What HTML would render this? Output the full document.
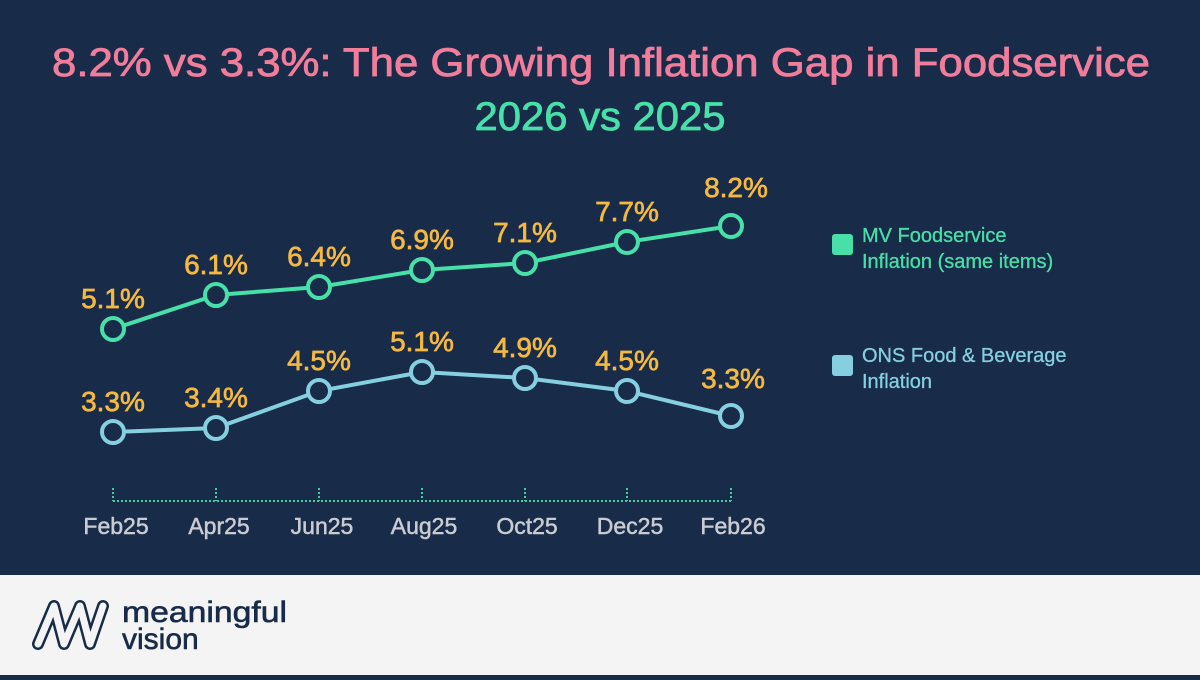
<!DOCTYPE html>
<html><head><meta charset="utf-8"><style>
html,body{margin:0;padding:0;}
body{width:1200px;height:675px;overflow:hidden;background:#182b48;font-family:"Liberation Sans","DejaVu Sans",sans-serif;}
</style></head><body>
<svg width="1200" height="675" xmlns="http://www.w3.org/2000/svg" font-family="Liberation Sans, DejaVu Sans, sans-serif">
<rect width="1200" height="575" fill="#182b48"/>
<rect y="575" width="1200" height="100" fill="#f4f4f4"/>
<text x="601" y="76" text-anchor="middle" font-size="40" fill="#f27d9b" stroke="#f27d9b" stroke-width="0.8" textLength="1098" lengthAdjust="spacingAndGlyphs">8.2% vs 3.3%: The Growing Inflation Gap in Foodservice</text>
<text x="600" y="130" text-anchor="middle" font-size="40" fill="#47e0a8" stroke="#47e0a8" stroke-width="0.8" textLength="251" lengthAdjust="spacingAndGlyphs">2026 vs 2025</text>
<g stroke="#3fcfa0" stroke-width="2" stroke-dasharray="2,2" fill="none">
<line x1="113" y1="501" x2="731" y2="501"/>
<line x1="113" y1="488" x2="113" y2="501"/><line x1="216" y1="488" x2="216" y2="501"/><line x1="319" y1="488" x2="319" y2="501"/><line x1="422" y1="488" x2="422" y2="501"/><line x1="525" y1="488" x2="525" y2="501"/><line x1="627" y1="488" x2="627" y2="501"/><line x1="731" y1="488" x2="731" y2="501"/>
</g>
<g font-size="23" fill="#c9ccd2" stroke="#c9ccd2" stroke-width="0.5" text-anchor="middle">
<text x="116" y="534">Feb25</text><text x="219" y="534">Apr25</text><text x="322" y="534">Jun25</text><text x="424" y="534">Aug25</text><text x="527" y="534">Oct25</text><text x="630" y="534">Dec25</text><text x="733" y="534">Feb26</text>
</g>
<polyline points="113,329 216,295 319,287 422,270 525,263 627,242 731,226" fill="none" stroke="#47e0a8" stroke-width="4"/>
<polyline points="113,432 216,428 319,391 422,372 525,378 627,391 731,416" fill="none" stroke="#86cfe0" stroke-width="4"/>
<g fill="#182b48" stroke="#47e0a8" stroke-width="4">
<circle cx="113" cy="329" r="11"/><circle cx="216" cy="295" r="11"/><circle cx="319" cy="287" r="11"/><circle cx="422" cy="270" r="11"/><circle cx="525" cy="263" r="11"/><circle cx="627" cy="242" r="11"/><circle cx="731" cy="226" r="11"/>
</g>
<g fill="#182b48" stroke="#86cfe0" stroke-width="4">
<circle cx="113" cy="432" r="11"/><circle cx="216" cy="428" r="11"/><circle cx="319" cy="391" r="11"/><circle cx="422" cy="372" r="11"/><circle cx="525" cy="378" r="11"/><circle cx="627" cy="391" r="11"/><circle cx="731" cy="416" r="11"/>
</g>
<g font-size="28" fill="#f5b942" stroke="#f5b942" stroke-width="0.7" text-anchor="middle">
<text x="113" y="308">5.1%</text><text x="216" y="274">6.1%</text><text x="319" y="266">6.4%</text><text x="422" y="249">6.9%</text><text x="525" y="242">7.1%</text><text x="627" y="221">7.7%</text><text x="736" y="197">8.2%</text>
<text x="113" y="411">3.3%</text><text x="216" y="407">3.4%</text><text x="319" y="370">4.5%</text><text x="422" y="351">5.1%</text><text x="525" y="357">4.9%</text><text x="627" y="370">4.5%</text><text x="733" y="388">3.3%</text>
</g>
<rect x="832" y="234" width="21" height="21" rx="3" fill="#47e0a8"/>
<text x="862" y="242" font-size="20" fill="#47e0a8" stroke="#47e0a8" stroke-width="0.3">MV Foodservice</text>
<text x="862" y="268" font-size="20" fill="#47e0a8" stroke="#47e0a8" stroke-width="0.3">Inflation (same items)</text>
<rect x="832" y="355" width="21" height="21" rx="3" fill="#86cfe0"/>
<text x="862" y="362" font-size="20" fill="#86cfe0" stroke="#86cfe0" stroke-width="0.3">ONS Food &amp; Beverage</text>
<text x="862" y="388" font-size="20" fill="#86cfe0" stroke="#86cfe0" stroke-width="0.3">Inflation</text>
<g fill="none" stroke-linecap="round" stroke-linejoin="round">
<polyline points="38,644 54,606 64,644 80,606 90,644 103,606" stroke="#182b48" stroke-width="12"/>
<polyline points="38,644 54,606 64,644 80,606 90,644 103,606" stroke="#f4f4f4" stroke-width="7"/>
</g>
<text x="122" y="622" font-size="30" fill="#182b48" stroke="#182b48" stroke-width="0.6" textLength="165" lengthAdjust="spacingAndGlyphs">meaningful</text>
<text x="122" y="649" font-size="30" fill="#182b48" stroke="#182b48" stroke-width="0.6">vision</text>
</svg>
</body></html>
